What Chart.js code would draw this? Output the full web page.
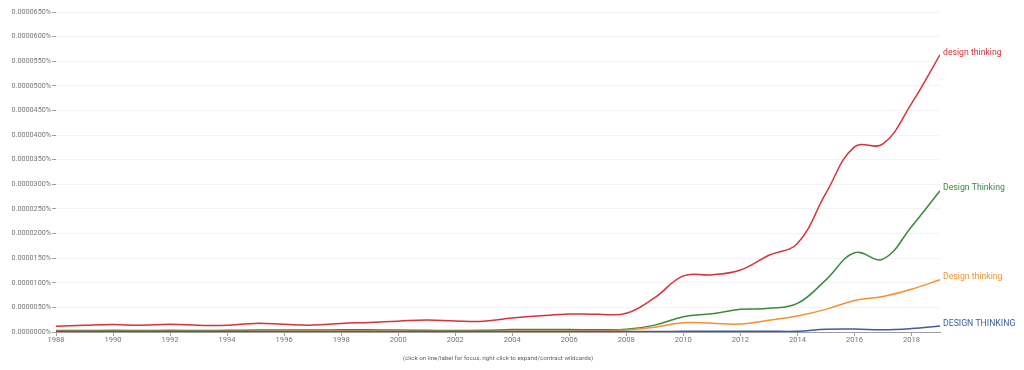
<!DOCTYPE html>
<html>
<head>
<meta charset="utf-8">
<script src="https://cdn.jsdelivr.net/npm/chart.js@4/dist/chart.umd.min.js"></script>
<style>
html,body{margin:0;padding:0;background:#fff;}
#wrap{position:relative;width:1024px;height:370px;}
</style>
</head>
<body>
<div id="wrap"><canvas id="c" width="1024" height="370"></canvas></div>
<script>
// Data (values in units of 0.000001 %)
const years = [1988,1989,1990,1991,1992,1993,1994,1995,1996,1997,1998,1999,2000,2001,2002,2003,2004,2005,2006,2007,2008,2009,2010,2011,2012,2013,2014,2015,2016,2017,2018,2019];
const seriesNames = ["design thinking","Design Thinking","Design thinking","DESIGN THINKING"];
const designThinkingLower = [1.15,1.35,1.5,1.35,1.55,1.35,1.35,1.75,1.55,1.4,1.75,1.95,2.2,2.45,2.25,2.2,2.85,3.3,3.65,3.6,3.8,7.0,11.4,11.6,12.6,15.6,18.0,28.2,37.6,38.2,46.4,56.3];
const designThinkingTitle = [0.3,0.3,0.35,0.3,0.35,0.3,0.35,0.4,0.4,0.4,0.45,0.45,0.4,0.35,0.3,0.35,0.5,0.5,0.5,0.45,0.55,1.4,3.1,3.7,4.6,4.8,5.8,10.6,16.1,14.8,21.4,28.7];
const designThinkingSentence = [0.15,0.15,0.15,0.15,0.15,0.15,0.15,0.15,0.2,0.2,0.2,0.2,0.2,0.15,0.15,0.15,0.2,0.2,0.2,0.2,0.4,0.95,1.9,1.77,1.63,2.4,3.25,4.6,6.4,7.2,8.7,10.6];
const designThinkingUpper = [0.08,0.08,0.08,0.08,0.08,0.08,0.08,0.08,0.08,0.08,0.08,0.08,0.08,0.08,0.08,0.08,0.08,0.08,0.08,0.08,0.1,0.1,0.15,0.15,0.15,0.15,0.15,0.55,0.6,0.45,0.7,1.2];
const yTickValues = [0,5,10,15,20,25,30,35,40,45,50,55,60,65];
const xTickYears = [1988,1990,1992,1994,1996,1998,2000,2002,2004,2006,2008,2010,2012,2014,2016,2018];
const caption = "(click on line/label for focus, right click to expand/contract wildcards)";

const colors = ["#d8323c","#3a8a3a","#f5902f","#3a5da8"];
const allSeries = [designThinkingLower, designThinkingTitle, designThinkingSentence, designThinkingUpper];

const datasets = allSeries.map((s,i)=>({
  label: seriesNames[i],
  data: s.map((v,j)=>({x: years[j], y: v})),
  borderColor: colors[i],
  backgroundColor: colors[i],
  borderWidth: 1.5,
  pointRadius: 0,
  tension: 0.4,
  fill: false
})).reverse();

const endLabels = {
  id: 'endLabels',
  afterDatasetsDraw(chart){
    const ctx = chart.ctx;
    ctx.save();
    ctx.font = '8.7px Roboto';
    ctx.textBaseline = 'middle';
    ctx.textAlign = 'left';
    chart.data.datasets.forEach((ds,i)=>{
      const meta = chart.getDatasetMeta(i);
      const pt = meta.data[meta.data.length-1];
      ctx.fillStyle = ds.borderColor;
      ctx.fillText(ds.label, pt.x + 3, pt.y - 2.5);
    });
    ctx.restore();
  }
};

new Chart(document.getElementById('c'), {
  type: 'line',
  data: { datasets },
  options: {
    responsive: false,
    animation: false,
    events: [],
    layout: { padding: { top: 12, right: 84, left: 0, bottom: 0 } },
    plugins: { legend: { display: false }, tooltip: { enabled: false } },
    scales: {
      x: {
        type: 'linear',
        min: 1988, max: 2019,
        afterBuildTicks: s => { s.ticks = xTickYears.map(v=>({value:v})); },
        afterFit: s => { s.height = 38; },
        border: { color: '#9e9e9e', width: 1 },
        grid: { drawOnChartArea: false, drawTicks: true, tickLength: 4, color: '#9e9e9e' },
        ticks: { font: { family: 'Roboto', size: 7.6 }, color: '#757575', padding: 0, maxRotation: 0, autoSkip: false, callback: v => String(v) },
        title: { display: true, text: caption, font: { family: 'Roboto', size: 6.2 }, color: '#616161', padding: { top: 0, bottom: 8 } }
      },
      y: {
        min: 0, max: 65,
        afterBuildTicks: s => { s.ticks = yTickValues.map(v=>({value:v})); },
        afterFit: s => { s.width = 56; },
        border: { display: false },
        grid: { color: '#f3f3f3', drawTicks: true, tickLength: 4, tickColor: '#9e9e9e', lineWidth: 1 },
        ticks: { font: { family: 'Roboto', size: 7.2 }, color: '#757575', padding: 1, callback: v => (v*1e-6).toFixed(7) + '%' }
      }
    }
  },
  plugins: [endLabels]
});
</script>
</body>
</html>
